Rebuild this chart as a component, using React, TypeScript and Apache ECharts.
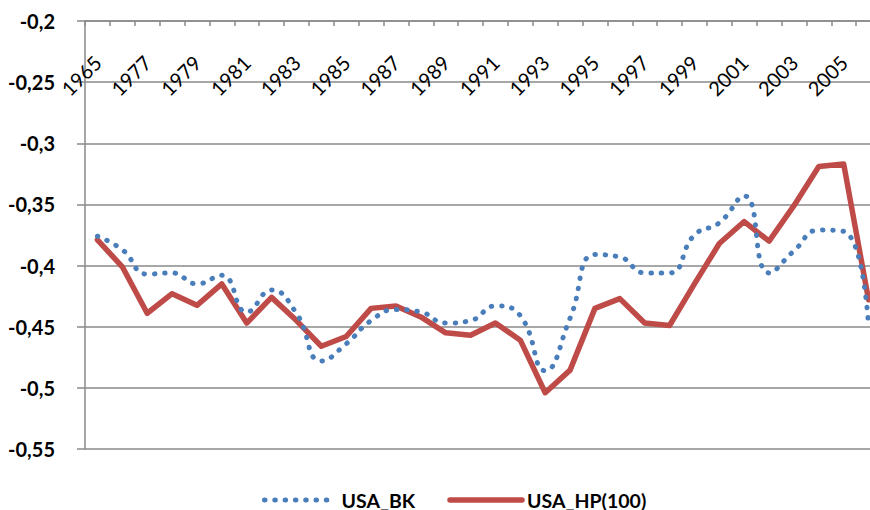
import React, { useEffect, useRef } from "react";
import * as echarts from "echarts";

const categories: string[] = [
  "1965", "1976", "1977", "1978", "1979", "1980", "1981", "1982", "1983", "1984",
  "1985", "1986", "1987", "1988", "1989", "1990", "1991", "1992", "1993", "1994",
  "1995", "1996", "1997", "1998", "1999", "2000", "2001", "2002", "2003", "2004",
  "2005", "2006",
];

const usaBK: number[] = [
  -0.376, -0.387, -0.407, -0.406, -0.415, -0.408, -0.438, -0.42, -0.439, -0.478,
  -0.464, -0.445, -0.436, -0.438, -0.447, -0.445, -0.433, -0.441, -0.486, -0.443,
  -0.391, -0.393, -0.406, -0.406, -0.375, -0.365, -0.343, -0.406, -0.388, -0.371,
  -0.372, -0.45,
];

const usaHP: number[] = [
  -0.379, -0.401, -0.439, -0.423, -0.4325, -0.415, -0.447, -0.426, -0.445, -0.466,
  -0.458, -0.435, -0.433, -0.442, -0.455, -0.457, -0.447, -0.461, -0.504, -0.4855,
  -0.435, -0.427, -0.447, -0.449, -0.415, -0.382, -0.364, -0.38, -0.351, -0.319,
  -0.317, -0.428,
];

const seriesNames: string[] = ["USA_BK", "USA_HP(100)"];

const FONT = "Lato, 'Open Sans', sans-serif";
const GRID_COLOR = "#8a8a8a";

export default function App() {
  const ref = useRef<HTMLDivElement>(null);

  useEffect(() => {
    document.body.style.margin = "0";
    if (!ref.current) return;
    const chart = echarts.init(ref.current, undefined, { renderer: "svg" });
    chart.setOption({
      animation: false,
      backgroundColor: "#ffffff",
      grid: {
        left: 85,
        top: 21,
        width: 796,
        height: 428,
        outerBoundsMode: "none",
        containLabel: false,
      },
      legend: {
        data: seriesNames,
        left: 262,
        top: 489,
        padding: 0,
        itemWidth: 72,
        itemHeight: 16,
        itemGap: 32,
        itemStyle: { opacity: 0 },
        lineStyle: { width: "inherit" },
        textStyle: {
          fontFamily: FONT,
          fontSize: 19.5,
          fontWeight: "bold",
          color: "#000",
          lineHeight: 22,
        },
      },
      xAxis: {
        type: "category",
        position: "top",
        data: categories,
        boundaryGap: true,
        axisLine: { show: true, lineStyle: { color: GRID_COLOR, width: 1.5 } },
        axisTick: {
          show: true,
          inside: true,
          length: 5,
          interval: 0,
          lineStyle: { color: GRID_COLOR, width: 1.5 },
        },
        axisLabel: {
          show: true,
          inside: true,
          rotate: -45,
          interval: 1,
          margin: 38,
          fontFamily: FONT,
          fontSize: 20,
          color: "#000",
        },
        splitLine: { show: false },
      },
      yAxis: {
        type: "value",
        min: -0.55,
        max: -0.2,
        interval: 0.05,
        axisLine: { show: true, lineStyle: { color: GRID_COLOR, width: 1.5 } },
        axisTick: { show: true, length: 8, lineStyle: { color: GRID_COLOR, width: 1.5 } },
        axisLabel: {
          margin: 30,
          fontFamily: FONT,
          fontSize: 20,
          fontWeight: "bold",
          color: "#000",
          formatter: (v: number) => String(parseFloat(v.toFixed(2))).replace(".", ","),
        },
        splitLine: { show: true, lineStyle: { color: GRID_COLOR, width: 1.5 } },
      },
      series: [
        {
          name: seriesNames[0],
          type: "line",
          data: usaBK,
          smooth: 0.5,
          symbol: "none",
          showSymbol: false,
          lineStyle: {
            color: "#4a7ebb",
            width: 5,
            type: [0.5, 9.8],
            cap: "round",
            join: "round",
          },
          itemStyle: { color: "#4a7ebb" },
          z: 3,
        },
        {
          name: seriesNames[1],
          type: "line",
          data: usaHP,
          smooth: false,
          symbol: "none",
          showSymbol: false,
          lineStyle: {
            color: "#be4b48",
            width: 5.5,
            cap: "round",
            join: "round",
          },
          itemStyle: { color: "#be4b48" },
          z: 2,
        },
      ],
    });
    return () => chart.dispose();
  }, []);

  return <div ref={ref} style={{ width: 870, height: 510 }} />;
}
